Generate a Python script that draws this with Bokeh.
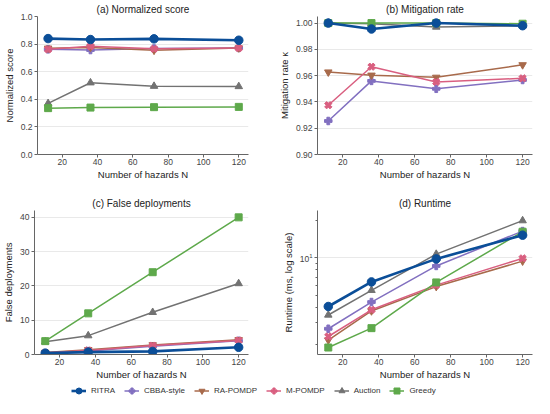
import numpy as np
from bokeh.plotting import figure
from bokeh.models import (Range1d, FixedTicker, PrintfTickFormatter,
                          Legend, LegendItem, ColumnDataSource)
from bokeh.layouts import column, row
from bokeh.embed import file_html
from bokeh.resources import INLINE

# ---------------- data ----------------
N = [12, 36, 72, 120]
x_ticks = [20, 40, 60, 80, 100, 120]
methods = ["RITRA", "CBBA-style", "RA-POMDP", "M-POMDP", "Auction", "Greedy"]

score_ritra = [0.840, 0.833, 0.838, 0.828]
score_cbba = [0.762, 0.757, 0.768, 0.772]
score_rapomdp = [0.770, 0.776, 0.755, 0.772]
score_mpomdp = [0.762, 0.784, 0.766, 0.771]
score_auction = [0.370, 0.520, 0.495, 0.493]
score_greedy = [0.336, 0.340, 0.343, 0.345]

mit_ritra = [1.000, 0.9955, 1.000, 0.998]
mit_cbba = [0.9255, 0.9560, 0.9500, 0.9567]
mit_rapomdp = [0.9627, 0.9603, 0.9587, 0.9682]
mit_mpomdp = [0.9375, 0.9668, 0.9552, 0.9580]
mit_auction = [1.000, 0.9995, 0.997, 0.998]
mit_greedy = [1.000, 1.000, 1.000, 0.9995]

fd_ritra = [0.4, 0.7, 0.9, 2.1]
fd_cbba = [0.4, 1.0, 2.4, 4.0]
fd_rapomdp = [0.6, 1.4, 2.8, 4.3]
fd_mpomdp = [0.5, 1.2, 2.6, 4.1]
fd_auction = [3.7, 5.5, 12.3, 20.7]
fd_greedy = [3.9, 12.0, 24.0, 40.0]

rt_ritra = [4.06, 6.4, 9.8, 15.2]
rt_cbba = [2.69, 4.41, 8.6, 16.4]
rt_rapomdp = [2.18, 3.74, 5.87, 9.4]
rt_mpomdp = [2.33, 3.82, 6.03, 9.9]
rt_auction = [3.47, 5.48, 10.7, 19.9]
rt_greedy = [1.9, 2.72, 6.34, 16.2]

score_ticks = [0.0, 0.2, 0.4, 0.6, 0.8, 1.0]
mit_ticks = [0.90, 0.92, 0.94, 0.96, 0.98, 1.00]
fd_ticks = [0, 10, 20, 30, 40]
rt_ticks = [10]
rt_minor_ticks = [2, 3, 4, 5, 6, 7, 8, 9, 20]

# ---------------- styles ----------------
FONT = "Liberation Sans"
style = {
    "RITRA":      dict(color="#0b4e98", marker="circle", size=8.5, lw=2.6, angle=0.0),
    "CBBA-style": dict(color="#8270c0", marker="plus", size=7.5, lw=1.5, angle=0.0),
    "RA-POMDP":   dict(color="#a86a4b", marker="inverted_triangle", size=7.5, lw=1.5, angle=0.0),
    "M-POMDP":    dict(color="#d95f80", marker="plus", size=7.5, lw=1.5, angle=np.pi / 4),
    "Auction":    dict(color="#727272", marker="triangle", size=7.5, lw=1.5, angle=0.0),
    "Greedy":     dict(color="#5ea94b", marker="square", size=7, lw=1.5, angle=0.0),
}
draw_order = ["CBBA-style", "RA-POMDP", "M-POMDP", "Auction", "Greedy", "RITRA"]
X0, X1 = 6.0, 125.5


def panel(title, ylabel, series, yr, yticks, fmt, w, h, bl, br, bt, bb,
          log=False, minor=None):
    kw = dict(width=w, height=h, output_backend="svg", toolbar_location=None,
              x_range=Range1d(X0, X1), y_range=Range1d(*yr),
              min_border_left=bl, min_border_right=br,
              min_border_top=bt, min_border_bottom=bb, title=title)
    if log:
        kw["y_axis_type"] = "log"
    p = figure(**kw)
    p.title.align = "center"
    p.title.text_font = FONT
    p.title.text_font_size = "10px"
    p.title.text_font_style = "normal"
    p.title.text_color = "#222222"
    p.title.standoff = 3
    p.title.offset = 0
    p.outline_line_color = None
    p.background_fill_color = "white"
    p.border_fill_color = "white"
    p.xgrid.visible = False
    p.ygrid.grid_line_color = "#e9e9e9"
    p.ygrid.grid_line_width = 1

    p.xaxis.ticker = FixedTicker(ticks=x_ticks)
    if minor is not None:
        p.yaxis.ticker = FixedTicker(ticks=yticks, minor_ticks=minor)
    else:
        p.yaxis.ticker = FixedTicker(ticks=yticks)
    if fmt is not None:
        p.yaxis.formatter = PrintfTickFormatter(format=fmt)

    for ax in (p.xaxis, p.yaxis):
        ax.axis_line_color = "#666666"
        ax.major_tick_line_color = "#666666"
        ax.minor_tick_line_color = "#666666"
        ax.major_tick_out = 3
        ax.major_tick_in = 0
        ax.minor_tick_out = 2 if minor is not None else 0
        ax.minor_tick_in = 0
        ax.major_label_text_font = FONT
        ax.major_label_text_font_size = "8.5px"
        ax.major_label_text_color = "#444444"
        ax.major_label_standoff = 2
        ax.axis_label_text_font = FONT
        ax.axis_label_text_font_size = "9.5px"
        ax.axis_label_text_font_style = "normal"
        ax.axis_label_text_color = "#222222"
        ax.axis_label_standoff = 3
    p.xaxis.minor_tick_out = 0
    p.xaxis.major_label_standoff = 1
    p.xaxis.axis_label_standoff = 1
    p.yaxis.axis_label = ylabel
    p.xaxis.axis_label = "Number of hazards N"

    for m in draw_order:
        s = style[m]
        src = ColumnDataSource(dict(x=N, y=series[m]))
        p.line("x", "y", source=src, line_color=s["color"], line_width=s["lw"])
        p.scatter("x", "y", source=src, marker=s["marker"], size=s["size"],
                  angle=s["angle"], fill_color=s["color"], line_color=s["color"])
    return p


score = {"RITRA": score_ritra, "CBBA-style": score_cbba, "RA-POMDP": score_rapomdp,
         "M-POMDP": score_mpomdp, "Auction": score_auction, "Greedy": score_greedy}
mit = {"RITRA": mit_ritra, "CBBA-style": mit_cbba, "RA-POMDP": mit_rapomdp,
       "M-POMDP": mit_mpomdp, "Auction": mit_auction, "Greedy": mit_greedy}
fd = {"RITRA": fd_ritra, "CBBA-style": fd_cbba, "RA-POMDP": fd_rapomdp,
      "M-POMDP": fd_mpomdp, "Auction": fd_auction, "Greedy": fd_greedy}
rt = {"RITRA": rt_ritra, "CBBA-style": rt_cbba, "RA-POMDP": rt_rapomdp,
      "M-POMDP": rt_mpomdp, "Auction": rt_auction, "Greedy": rt_greedy}

pa = panel("(a) Normalized score", "Normalized score", score, (0.0, 1.0),
           score_ticks, "%.1f", 267, 182, 27, 19, 10, 28)
pb = panel("(b) Mitigation rate", "Mitigation rate κ", mit, (0.90, 1.005),
           mit_ticks, "%.2f", 267, 182, 50, 2, 10, 28)
pc = panel("(c) False deployments", "False deployments", fd, (0.0, 42.0),
           fd_ticks, "%d", 267, 200, 34, 19, 28, 28)
pd_ = panel("(d) Runtime", "Runtime (ms, log scale)", rt, (1.67, 24.0),
            rt_ticks, None, 267, 200, 50, 2, 28, 28, log=True, minor=rt_minor_ticks)

# ---------------- legend ----------------
pl = figure(width=534, height=16, output_backend="svg", toolbar_location=None,
            x_range=Range1d(0, 1), y_range=Range1d(0, 1),
            min_border=0)
pl.axis.visible = False
pl.grid.visible = False
pl.outline_line_color = None
items = []
for m in methods:
    s = style[m]
    src = ColumnDataSource(dict(x=[-5.0, -4.0], y=[-5.0, -5.0]))
    r1 = pl.line("x", "y", source=src, line_color=s["color"], line_width=s["lw"])
    r2 = pl.scatter("x", "y", source=src, marker=s["marker"], size=s["size"],
                    angle=s["angle"], fill_color=s["color"], line_color=s["color"])
    items.append(LegendItem(label=m, renderers=[r1, r2]))
leg = Legend(items=items, orientation="horizontal", location=(71, 0),
             border_line_color=None, background_fill_alpha=0,
             label_text_font=FONT, label_text_font_size="8px",
             label_text_color="#333333", glyph_width=15, glyph_height=15,
             label_standoff=5, spacing=9, padding=0, margin=0)
pl.add_layout(leg, "center")

layout = column(row(pa, pb), row(pc, pd_), pl)
open("out.html", "w").write(file_html(layout, INLINE))
